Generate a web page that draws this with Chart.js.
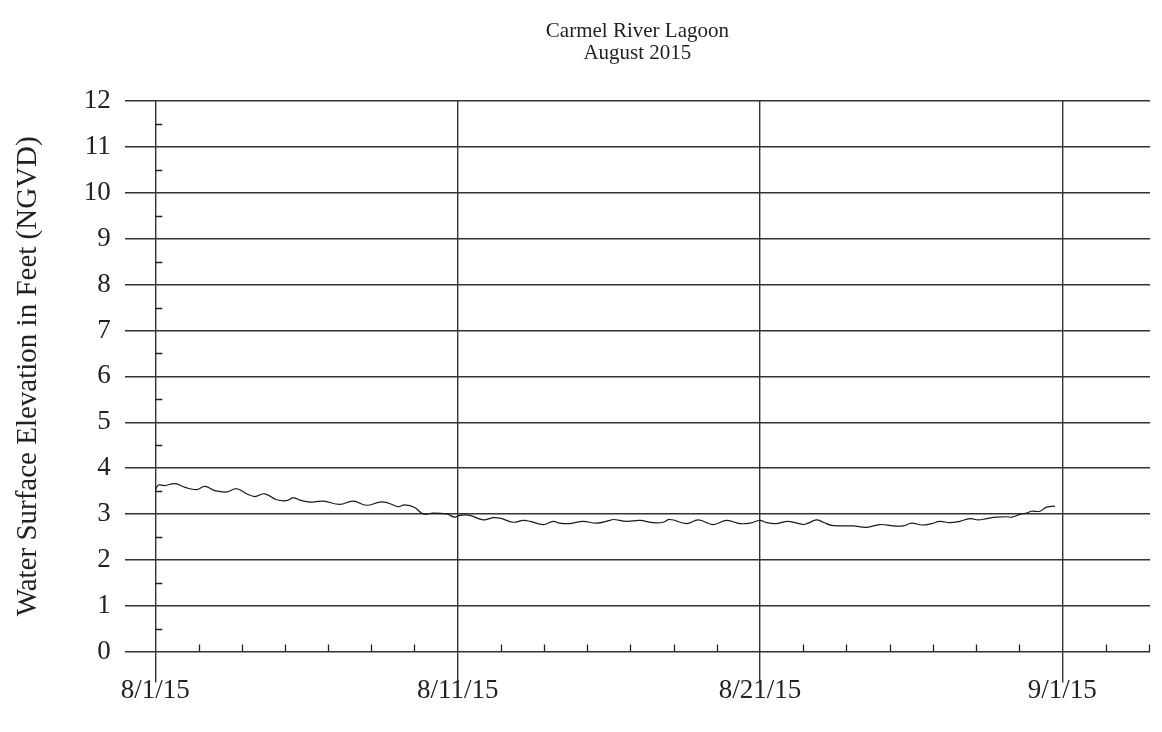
<!DOCTYPE html>
<html>
<head>
<meta charset="utf-8">
<title>Carmel River Lagoon - August 2015</title>
<script src="https://cdn.jsdelivr.net/npm/chart.js@4.4.1/dist/chart.umd.min.js"></script>
<style>
  html, body { margin: 0; padding: 0; background: #fff; }
  #wrap { width: 1162px; height: 732px; }
</style>
</head>
<body>
<div id="wrap"><canvas id="lagoon" width="1162" height="732"></canvas></div>
<script>
// days after 8/1/15 (in axis units: 8/1 = 0, 8/11 = 10, 8/21 = 20, 9/1 = 30)
const dayOffsets = [
  0.00, 0.10, 0.31, 0.65, 0.98, 1.36, 1.64, 1.97, 2.36, 2.69,
  3.02, 3.29, 3.62, 4.01, 4.34, 4.56, 4.84, 5.11, 5.55, 6.10,
  6.54, 6.99, 7.43, 7.70, 8.03, 8.25, 8.58, 8.86, 9.19, 9.63,
  9.91, 10.07, 10.40, 10.84, 11.17, 11.40, 11.84, 12.17, 12.39, 12.83,
  13.16, 13.38, 13.71, 14.15, 14.59, 15.03, 15.14, 15.59, 16.03, 16.47,
  16.80, 17.02, 17.57, 17.96, 18.45, 18.90, 19.34, 19.67, 20.00, 20.22,
  20.55, 20.93, 21.43, 21.59, 21.87, 22.09, 22.37, 22.64, 23.08, 23.53,
  23.97, 24.41, 24.74, 25.02, 25.35, 25.68, 25.95, 26.28, 26.61, 26.94,
  27.22, 27.50, 27.83, 28.16, 28.32, 28.60, 28.82, 28.98, 29.26, 29.48,
  29.76
];
// water surface elevation, feet NGVD
const elevations = [
  3.52, 3.63, 3.62, 3.66, 3.58, 3.53, 3.60, 3.51, 3.48, 3.55,
  3.44, 3.38, 3.44, 3.31, 3.29, 3.35, 3.29, 3.26, 3.28, 3.21,
  3.28, 3.19, 3.26, 3.24, 3.16, 3.20, 3.14, 3.00, 3.02, 3.00,
  2.93, 2.97, 2.97, 2.87, 2.92, 2.91, 2.82, 2.86, 2.84, 2.77,
  2.84, 2.80, 2.79, 2.84, 2.80, 2.86, 2.88, 2.84, 2.86, 2.81,
  2.82, 2.88, 2.79, 2.87, 2.77, 2.86, 2.79, 2.80, 2.86, 2.81,
  2.79, 2.84, 2.77, 2.80, 2.87, 2.82, 2.75, 2.74, 2.74, 2.71,
  2.77, 2.74, 2.74, 2.80, 2.76, 2.79, 2.84, 2.81, 2.84, 2.90,
  2.87, 2.90, 2.93, 2.94, 2.93, 2.99, 3.02, 3.06, 3.06, 3.15,
  3.17
];

const xTickValues = [0, 10, 20, 30];
const xTickLabels = ['8/1/15', '8/11/15', '8/21/15', '9/1/15'];
const yTickValues = [0, 1, 2, 3, 4, 5, 6, 7, 8, 9, 10, 11, 12];
const minorXPerMajor = 7;   // small marks on the bottom axis between dates
const minorYStep = 0.5;      // small marks along the 8/1 line

const serif = '"Liberation Serif", "Times New Roman", serif';
const ink = '#222';
const gridInk = '#333';

// ---- small tick marks drawn from the scales ----
const minorTicks = {
  id: 'minorTicks',
  afterDraw(chart) {
    const { ctx, chartArea, scales } = chart;
    const x = scales.x, y = scales.y;
    ctx.save();
    ctx.strokeStyle = ink;
    ctx.lineWidth = 1.3;
    ctx.beginPath();
    const step = 10 / minorXPerMajor;
    for (let k = 0; k * step <= x.max; k++) {
      if (k % minorXPerMajor === 0) continue;
      const px = Math.round(x.getPixelForValue(k * step)) + 0.5;
      ctx.moveTo(px, chartArea.bottom);
      ctx.lineTo(px, chartArea.bottom - 7);
    }
    const x0 = x.getPixelForValue(xTickValues[0]);
    for (let v = minorYStep; v < y.max; v += 1) {
      const py = Math.round(y.getPixelForValue(v)) + 0.5;
      ctx.moveTo(x0, py);
      ctx.lineTo(x0 + 7, py);
    }
    ctx.stroke();
    ctx.restore();
  }
};

new Chart(document.getElementById('lagoon'), {
  type: 'line',
  data: {
    datasets: [{
      label: 'Water Surface Elevation',
      data: dayOffsets.map((d, i) => ({ x: d, y: elevations[i] })),
      borderColor: '#1a1a1a',
      borderWidth: 1.2,
      pointRadius: 0,
      tension: 0.4,
      fill: false
    }]
  },
  options: {
    responsive: false,
    animation: false,
    layout: { padding: { top: 6, right: 12, bottom: 33, left: 11 } },
    plugins: {
      legend: { display: false },
      tooltip: { enabled: false },
      title: {
        display: true,
        fullSize: false,
        text: ['Carmel River Lagoon', 'August 2015'],
        color: ink,
        font: { family: serif, size: 21, weight: 'normal', lineHeight: 1.05 },
        padding: { top: 14, bottom: 37 }
      }
    },
    scales: {
      x: {
        type: 'linear',
        min: -1.01,
        max: 32.9,
        afterBuildTicks: (scale) => { scale.ticks = xTickValues.map(v => ({ value: v })); },
        ticks: {
          color: ink,
          font: { family: serif, size: 27 },
          padding: -8,
          maxRotation: 0,
          callback: (v) => xTickLabels[xTickValues.indexOf(v)] || ''
        },
        grid: { color: gridInk, lineWidth: 1.4, tickLength: 31 },
        border: { display: false }
      },
      y: {
        min: 0,
        max: 12,
        afterBuildTicks: (scale) => { scale.ticks = yTickValues.map(v => ({ value: v })); },
        ticks: {
          color: ink,
          font: { family: serif, size: 27 },
          padding: 14
        },
        grid: { color: gridInk, lineWidth: 1.4, drawTicks: false },
        border: { display: false },
        title: {
          display: true,
          text: 'Water Surface Elevation in Feet (NGVD)',
          color: ink,
          font: { family: serif, size: 29 },
          padding: { top: 0, bottom: 24 }
        }
      }
    }
  },
  plugins: [minorTicks]
});
</script>
</body>
</html>
